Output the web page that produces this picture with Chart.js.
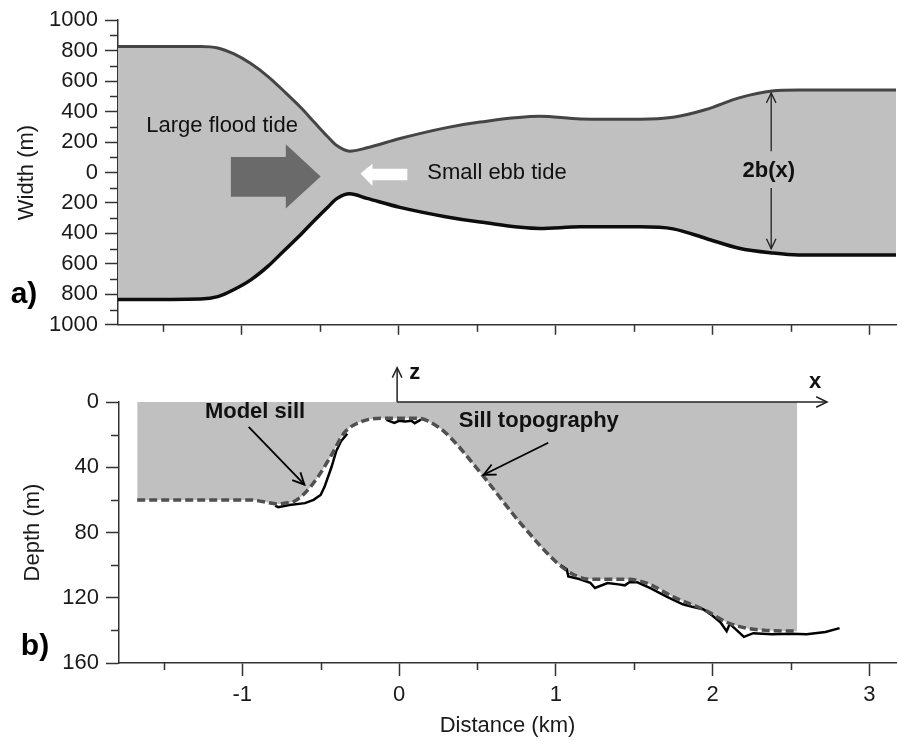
<!DOCTYPE html>
<html lang="en">
<head>
<meta charset="UTF-8">
<title>Sill width and depth</title>
<script src="https://cdn.jsdelivr.net/npm/chart.js"></script>
<style>
    html, body { margin: 0; padding: 0; background: #fff; }
    .panel { position: absolute; left: 0; }
    #top { top: 0; }
    #bottom { top: 345px; }
</style>
</head>
<body>
<div class="panel" id="top"><canvas id="widthChart" width="898" height="345"></canvas></div>
<div class="panel" id="bottom"><canvas id="depthChart" width="898" height="398"></canvas></div>
<script>
// distance axis (km)
const distTicks = [-1.5, -1, -0.5, 0, 0.5, 1, 1.5, 2, 2.5, 3];

// a) channel half widths (m)
const channelX   = [-1.79, -1.26, -1.15, -1.05, -0.94, -0.83, -0.73, -0.62, -0.54, -0.45, -0.39, -0.31, -0.20, 0.01, 0.30, 0.52, 0.90, 1.16, 1.54, 1.75, 1.96, 2.17, 2.38, 2.55, 3.17];
const upperWidth = [828, 828, 818, 780, 715, 630, 535, 425, 335, 235, 175, 140, 162, 223, 293, 331, 369, 352, 350, 363, 414, 490, 535, 541, 541];
const lowerWidth = [-834, -830, -815, -770, -705, -615, -515, -405, -320, -228, -170, -140, -170, -229, -290, -325, -367, -357, -357, -370, -433, -497, -528, -541, -541];

// b) model sill (dashed)
const modelX     = [-1.67, -1.05, -0.94, -0.87, -0.77, -0.73, -0.67, -0.60, -0.515, -0.43, -0.35, -0.24, -0.09, 0.12, 0.245, 0.33, 0.54, 0.79, 1.06, 1.22, 1.45, 1.58, 1.75, 1.96, 2.09, 2.21, 2.34, 2.54];
const modelDepth = [60, 60, 60, 61, 62.5, 62, 61, 55.8, 45.6, 32.4, 19, 12, 10, 10, 15, 22, 45.8, 76, 102.6, 108.7, 108.7, 111, 119.5, 128, 135, 138.5, 140, 140.5];

// b) measured sill topography (solid), three visible pieces
const sillLeftX    = [-0.79, -0.77, -0.70, -0.60, -0.545, -0.50, -0.475, -0.43, -0.40, -0.37, -0.33];
const sillLeftD    = [63.5, 64.5, 63.2, 62, 60, 57, 52, 39.7, 30, 24, 19.5];
const sillCrestX   = [-0.08, -0.03, 0.0, 0.04, 0.08, 0.10, 0.14];
const sillCrestD   = [11, 12.8, 11.5, 12, 11.5, 13, 10.8];
const sillDeepX    = [1.03, 1.07, 1.08, 1.15, 1.22, 1.25, 1.33, 1.40, 1.44, 1.47, 1.52, 1.60, 1.71, 1.81, 1.87, 1.94, 2.0, 2.05, 2.09, 2.11, 2.20, 2.26, 2.38, 2.5, 2.6, 2.72, 2.81];
const sillDeepD    = [100, 102.6, 107, 108.5, 110.8, 114, 111, 111.8, 112.4, 110.5, 110.5, 114, 119.5, 124, 125.5, 127, 131, 135, 140.5, 136, 144, 141.7, 142.3, 142, 142.3, 141, 138.6];

const FONT = '"Liberation Sans", Arial, sans-serif';
const AXIS = '#333';
Chart.defaults.font.family = FONT;
Chart.defaults.color = '#1a1a1a';

function pts(xs, ys) {
    return xs.map((x, i) => ({ x: x, y: ys[i] }));
}

function minorTicks(scale, len, isMajor) {
    const ctx = scale.ctx;
    ctx.save();
    ctx.strokeStyle = AXIS;
    ctx.lineWidth = 1.5;
    scale.ticks.forEach(t => {
        if (isMajor(t.value)) return;
        const p = Math.round(scale.getPixelForValue(t.value)) + 0.5;
        ctx.beginPath();
        if (scale.isHorizontal()) {
            ctx.moveTo(p, scale.top);
            ctx.lineTo(p, scale.top + len);
        } else {
            ctx.moveTo(scale.right, p);
            ctx.lineTo(scale.right - len, p);
        }
        ctx.stroke();
    });
    ctx.restore();
}

function arrowHead(ctx, x1, y1, x2, y2, size) {
    const a = Math.atan2(y2 - y1, x2 - x1);
    ctx.beginPath();
    ctx.moveTo(x2 - size * Math.cos(a - 0.45), y2 - size * Math.sin(a - 0.45));
    ctx.lineTo(x2, y2);
    ctx.lineTo(x2 - size * Math.cos(a + 0.45), y2 - size * Math.sin(a + 0.45));
    ctx.stroke();
}

function arrow(ctx, x1, y1, x2, y2, size) {
    ctx.beginPath();
    ctx.moveTo(x1, y1);
    ctx.lineTo(x2, y2);
    ctx.stroke();
    arrowHead(ctx, x1, y1, x2, y2, size);
}

const isDist = v => Number.isInteger(v);

const widthNotes = {
    id: 'widthNotes',
    afterDraw(chart) {
        const { ctx, scales: { x, y } } = chart;
        const px = v => x.getPixelForValue(v);
        const py = v => y.getPixelForValue(v);
        minorTicks(x, 7, isDist);
        minorTicks(y, 8, v => Math.round(v) % 200 === 0);

        ctx.save();
        // large flood tide arrow
        ctx.fillStyle = '#6a6a6a';
        ctx.beginPath();
        ctx.moveTo(px(-1.067), py(102));
        ctx.lineTo(px(-0.717), py(102));
        ctx.lineTo(px(-0.717), py(185));
        ctx.lineTo(px(-0.495), py(-27));
        ctx.lineTo(px(-0.717), py(-236));
        ctx.lineTo(px(-0.717), py(-159));
        ctx.lineTo(px(-1.067), py(-159));
        ctx.closePath();
        ctx.fill();
        // small ebb tide arrow
        ctx.fillStyle = '#fff';
        ctx.beginPath();
        ctx.moveTo(px(-0.241), py(-6));
        ctx.lineTo(px(-0.165), py(57));
        ctx.lineTo(px(-0.165), py(25));
        ctx.lineTo(px(0.057), py(25));
        ctx.lineTo(px(0.057), py(-51));
        ctx.lineTo(px(-0.165), py(-51));
        ctx.lineTo(px(-0.165), py(-89));
        ctx.closePath();
        ctx.fill();

        ctx.fillStyle = '#111';
        ctx.textBaseline = 'middle';
        ctx.textAlign = 'left';
        ctx.font = '22px ' + FONT;
        ctx.fillText('Large flood tide', px(-1.606), py(306));
        ctx.fillText('Small ebb tide', px(0.184), py(-6));

        // 2b(x)
        ctx.font = 'bold 22px ' + FONT;
        ctx.textAlign = 'center';
        ctx.fillText('2b(x)', px(2.36), py(10));
        ctx.strokeStyle = '#222';
        ctx.lineWidth = 1.3;
        arrow(ctx, px(2.375), py(140), px(2.375), py(522), 11);
        arrow(ctx, px(2.375), py(-102), px(2.375), py(-500), 11);

        // panel label
        ctx.font = 'bold 30px ' + FONT;
        ctx.fillStyle = '#000';
        ctx.fillText('a)', 24, py(-800));
        ctx.restore();
    }
};

const depthNotes = {
    id: 'depthNotes',
    afterDraw(chart) {
        const { ctx, scales: { x, y } } = chart;
        const px = v => x.getPixelForValue(v);
        const py = v => y.getPixelForValue(v);
        minorTicks(x, 7, isDist);
        minorTicks(y, 8, v => v % 40 === 0);

        ctx.save();
        // coordinate axes x and z
        ctx.strokeStyle = '#222';
        ctx.lineWidth = 1.5;
        arrow(ctx, px(-0.012), py(0), px(2.73), py(0), 12);
        arrow(ctx, px(-0.012), py(0), px(-0.012), py(-21), 11);

        ctx.fillStyle = '#111';
        ctx.textBaseline = 'middle';
        ctx.font = 'bold 22px ' + FONT;
        ctx.textAlign = 'center';
        ctx.fillText('z', px(0.1), py(-17.7));
        ctx.fillText('x', px(2.654), py(-12.2));

        ctx.textAlign = 'left';
        ctx.fillText('Model sill', px(-1.238), py(6.1));
        ctx.fillText('Sill topography', px(0.381), py(11.6));

        ctx.strokeStyle = '#000';
        ctx.lineWidth = 1.8;
        arrow(ctx, px(-0.959), py(15.3), px(-0.603), py(50.7), 13);
        arrow(ctx, px(0.952), py(25), px(0.54), py(44.6), 13);

        ctx.font = 'bold 30px ' + FONT;
        ctx.fillStyle = '#000';
        ctx.textAlign = 'center';
        ctx.fillText('b)', 35, py(150));
        ctx.restore();
    }
};

function distScale(showLabels, majorLen, height) {
    return {
        type: 'linear',
        min: -1.786,
        max: 3.17,
        afterBuildTicks: s => { s.ticks = distTicks.map(v => ({ value: v })); },
        afterFit: s => { s.height = height; },
        border: { display: true, color: AXIS, width: 1.5 },
        grid: {
            drawOnChartArea: false,
            tickLength: majorLen,
            tickWidth: 1.5,
            tickColor: c => isDist(c.tick.value) ? AXIS : 'rgba(0,0,0,0)'
        },
        ticks: {
            display: showLabels,
            autoSkip: false,
            maxRotation: 0,
            padding: 6,
            font: { size: 22 },
            callback: v => isDist(v) ? String(v) : ''
        },
        title: {
            display: showLabels,
            text: 'Distance (km)',
            font: { size: 22 },
            padding: { top: 0, bottom: 4 }
        }
    };
}

const baseOptions = {
    responsive: false,
    animation: false,
    devicePixelRatio: 1,
    events: []
};

new Chart(document.getElementById('widthChart'), {
    type: 'line',
    data: {
        datasets: [
            {
                data: pts(channelX, upperWidth),
                borderColor: '#454545',
                borderWidth: 3,
                pointRadius: 0,
                cubicInterpolationMode: 'monotone',
                fill: false
            },
            {
                data: pts(channelX, lowerWidth),
                borderColor: '#0d0d0d',
                borderWidth: 3.5,
                pointRadius: 0,
                cubicInterpolationMode: 'monotone',
                fill: '-1',
                backgroundColor: '#c0c0c0'
            }
        ]
    },
    options: Object.assign({}, baseOptions, {
        layout: { padding: { top: 15, right: 2, left: 0, bottom: 0 } },
        plugins: {
            legend: { display: false },
            tooltip: { enabled: false },
            filler: { drawTime: 'beforeDatasetsDraw' }
        },
        scales: {
            x: distScale(false, 10, 16),
            y: {
                type: 'linear',
                min: -1000,
                max: 1000,
                afterFit: s => { s.width = 118; },
                border: { display: true, color: AXIS, width: 1.5 },
                grid: {
                    drawOnChartArea: false,
                    tickLength: 13,
                    tickWidth: 1.5,
                    tickColor: c => Math.round(c.tick.value) % 200 === 0 ? AXIS : 'rgba(0,0,0,0)'
                },
                ticks: {
                    stepSize: 100,
                    autoSkip: false,
                    padding: 7,
                    font: { size: 22 },
                    callback: v => Math.round(v) % 200 === 0 ? String(Math.abs(v)) : ''
                },
                title: {
                    display: true,
                    text: 'Width (m)',
                    font: { size: 22 },
                    padding: { top: 14, bottom: 0 }
                }
            }
        }
    }),
    plugins: [widthNotes]
});

new Chart(document.getElementById('depthChart'), {
    type: 'line',
    data: {
        datasets: [
            {
                label: 'Model sill',
                data: pts(modelX, modelDepth),
                borderColor: '#505050',
                borderWidth: 3.5,
                borderDash: [8, 4],
                pointRadius: 0,
                cubicInterpolationMode: 'monotone',
                fill: { value: 0 },
                backgroundColor: '#c0c0c0'
            },
            {
                label: 'Sill topography',
                data: pts(sillLeftX, sillLeftD),
                borderColor: '#000',
                borderWidth: 2.5,
                pointRadius: 0,
                tension: 0,
                fill: false
            },
            {
                data: pts(sillCrestX, sillCrestD),
                borderColor: '#000',
                borderWidth: 2.5,
                pointRadius: 0,
                tension: 0,
                fill: false
            },
            {
                data: pts(sillDeepX, sillDeepD),
                borderColor: '#000',
                borderWidth: 2.5,
                pointRadius: 0,
                tension: 0,
                fill: false
            }
        ]
    },
    options: Object.assign({}, baseOptions, {
        layout: { padding: { top: 57, right: 2, left: 0, bottom: 0 } },
        plugins: {
            legend: { display: false },
            tooltip: { enabled: false },
            filler: { drawTime: 'beforeDatasetsDraw' }
        },
        scales: {
            x: distScale(true, 13, 80),
            y: {
                type: 'linear',
                reverse: true,
                min: 0,
                max: 160,
                afterFit: s => { s.width = 119; },
                border: { display: true, color: AXIS, width: 1.5 },
                grid: {
                    drawOnChartArea: false,
                    tickLength: 13,
                    tickWidth: 1.5,
                    tickColor: c => c.tick.value % 40 === 0 ? AXIS : 'rgba(0,0,0,0)'
                },
                ticks: {
                    stepSize: 20,
                    autoSkip: false,
                    padding: 7,
                    font: { size: 22 },
                    callback: v => v % 40 === 0 ? String(v) : ''
                },
                title: {
                    display: true,
                    text: 'Depth (m)',
                    font: { size: 22 },
                    padding: { top: 20, bottom: 0 }
                }
            }
        }
    }),
    plugins: [depthNotes]
});
</script>
</body>
</html>
